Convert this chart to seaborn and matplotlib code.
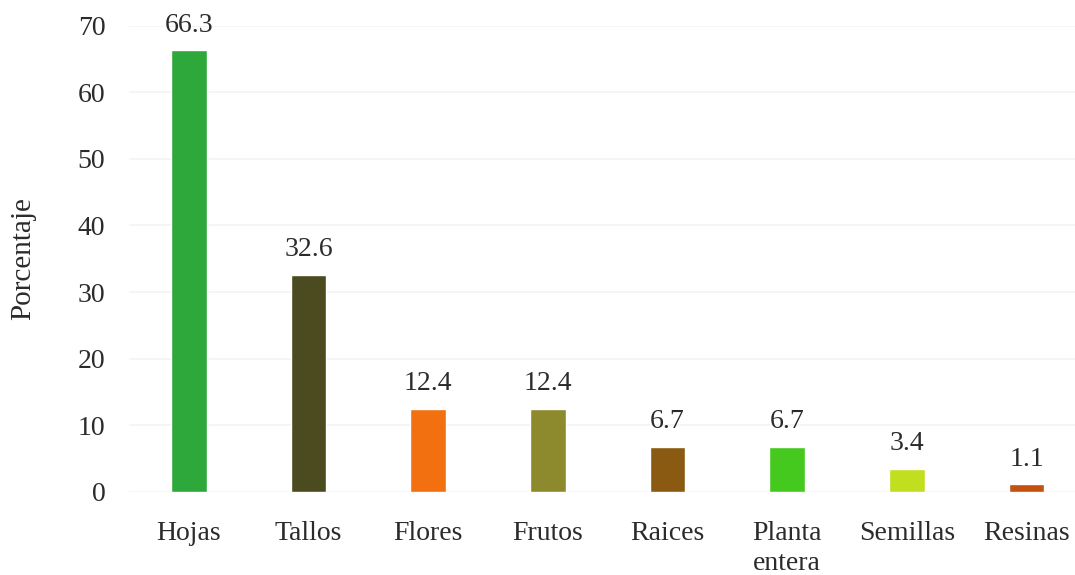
import matplotlib
matplotlib.use("Agg")
import matplotlib.pyplot as plt
import seaborn as sns
import pandas as pd

# Datos
partes = ['Hojas', 'Tallos', 'Flores', 'Frutos', 'Raices', 'Planta\nentera', 'Semillas', 'Resinas']
porcentaje = [66.3, 32.6, 12.4, 12.4, 6.7, 6.7, 3.4, 1.1]
colores = ['#2ea83a', '#4b4b1f', '#f2700f', '#8c8a2c', '#8b5a12', '#45c91f', '#c2df1f', '#c4520f']
yticks = [0, 10, 20, 30, 40, 50, 60, 70]

df = pd.DataFrame({'parte': partes, 'porcentaje': porcentaje})

sns.set_style('white')
plt.rcParams['font.family'] = ['Liberation Serif', 'DejaVu Serif']

fig = plt.figure(figsize=(10.75, 5.75), dpi=100)
ax = fig.add_axes([0.12, 0.145, 0.885, 0.81])

sns.barplot(data=df, x='parte', y='porcentaje', hue='parte', palette=colores,
            saturation=1, legend=False, width=0.3, ax=ax, zorder=3)

for i, v in enumerate(porcentaje):
    ax.text(i, v + 1.9, f'{v:.1f}', ha='center', va='bottom', fontsize=20, color='#2b2b2b')

ax.set_ylim(0, 70)
ax.set_xlim(-0.5, 7.45)
ax.set_yticks(yticks)
ax.yaxis.grid(True, color='#f3f3f3', linewidth=1.2, zorder=0)
ax.set_axisbelow(True)
sns.despine(ax=ax, left=True, bottom=True)
ax.tick_params(axis='both', length=0, labelsize=20, colors='#2b2b2b')
ax.tick_params(axis='y', pad=17)
ax.tick_params(axis='x', pad=21)
for lbl in ax.get_xticklabels():
    lbl.set_linespacing(1.3)
ax.set_xlabel('')
ax.set_ylabel('Porcentaje', fontsize=21, color='#2b2b2b', labelpad=30)

fig.savefig('out.png', dpi=100)
